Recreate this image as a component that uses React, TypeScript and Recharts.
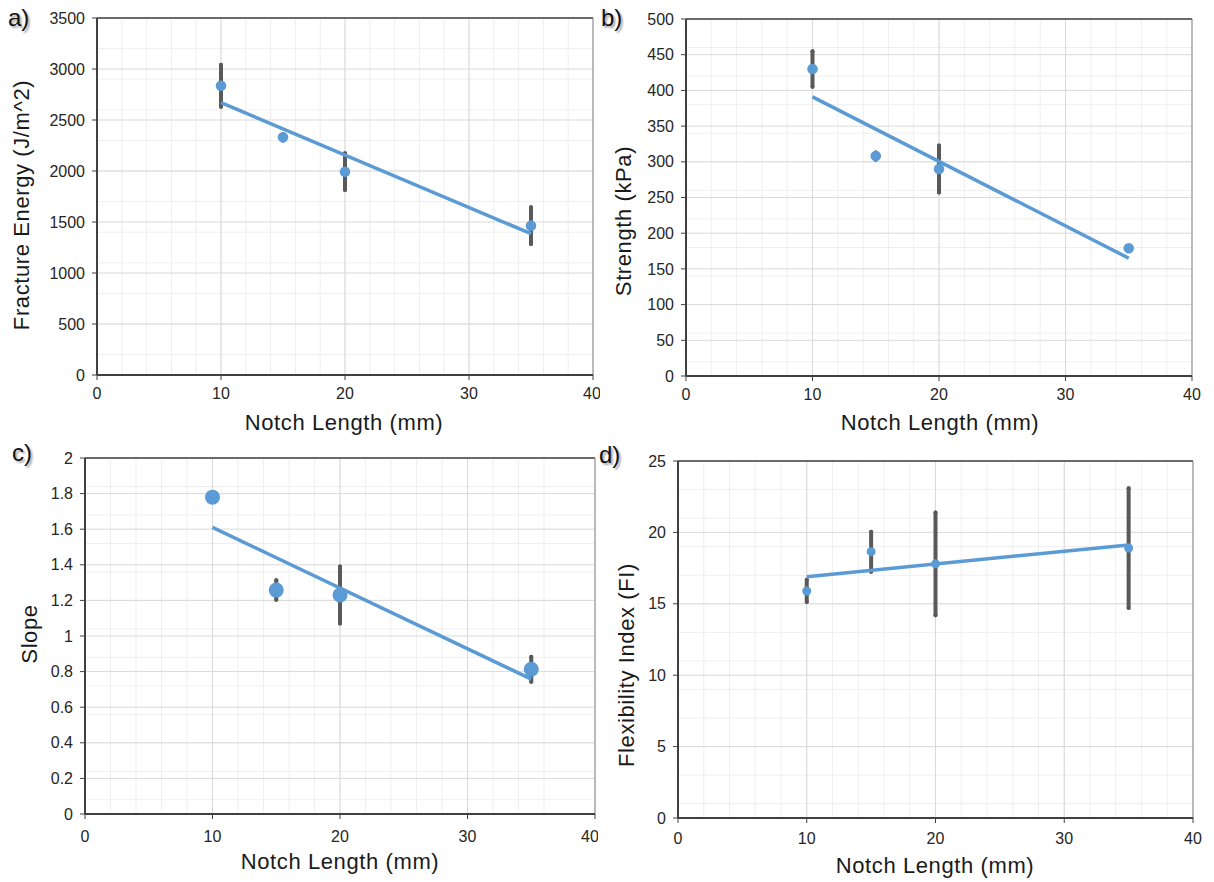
import React from "react";
import {
  ScatterChart,
  Scatter,
  XAxis,
  YAxis,
  CartesianGrid,
  ErrorBar,
  ReferenceLine,
} from "recharts";

const BLUE = "#5b9bd5";
const BAR = "#595959";
const AXIS = "#404040";
const FONT = "'Liberation Sans', Arial, sans-serif";

// notch lengths tested (mm)
const notchLengths = [10, 15, 20, 35];
const trendX = [10, 35];
const xTicks = [0, 10, 20, 30, 40];

// a) fracture energy
const energyMeans = [2836, 2330, 1993, 1464];
const energyErr = [205, 30, 180, 180];
const energyTrend = [2670, 1385];
const energyTicks = [0, 500, 1000, 1500, 2000, 2500, 3000, 3500];

// b) strength
const strengthMeans = [430, 308, 290, 179];
const strengthErr = [25, 5, 33, 3];
const strengthTrend = [391, 165];
const strengthTicks = [0, 50, 100, 150, 200, 250, 300, 350, 400, 450, 500];

// c) slope
const slopeMeans = [1.78, 1.258, 1.23, 0.813];
const slopeErr = [0.02, 0.055, 0.16, 0.07];
const slopeTrend = [1.61, 0.758];
const slopeTicks = [0, 0.2, 0.4, 0.6, 0.8, 1, 1.2, 1.4, 1.6, 1.8, 2];

// d) flexibility index
const fiMeans = [15.9, 18.65, 17.8, 18.9];
const fiErr = [0.78, 1.4, 3.6, 4.2];
const fiTrend = [16.9, 19.12];
const fiTicks = [0, 5, 10, 15, 20, 25];

// minor gridline positions
const steps = (max: number, step: number) => {
  const out: number[] = [];
  for (let i = 0; i * step <= max + 1e-9; i++) out.push(+(i * step).toFixed(4));
  return out;
};

const Y_AXIS_W = 60;
const X_AXIS_H = 30;

type Box = { left: number; top: number; width: number; height: number };
type Plot = { x0: number; x1: number; y0: number; y1: number };

function Panel(props: {
  means: number[];
  errs: number[];
  trend: number[];
  yTicks: number[];
  minorStep: number;
  radius: number;
  xTickGap: number;
  box: Box;
  plot: Plot;
}) {
  const { means, errs, trend, yTicks, minorStep, radius, xTickGap, box, plot } = props;
  const pts = notchLengths.map((x, i) => ({ x, y: means[i], err: errs[i] }));
  const line = trendX.map((x, i) => ({ x, y: trend[i] }));
  const yMax = yTicks[yTicks.length - 1];
  const margin = {
    left: plot.x0 - box.left - Y_AXIS_W,
    right: box.left + box.width - plot.x1,
    top: plot.y0 - box.top,
    bottom: box.top + box.height - plot.y1 - X_AXIS_H,
  };
  const tickStyle = { fill: "#262626", fontSize: 16, fontFamily: FONT };

  return (
    <div
      style={{
        position: "absolute",
        left: box.left,
        top: box.top,
        width: box.width,
        height: box.height,
        overflow: "hidden",
      }}
    >
      <ScatterChart width={box.width} height={box.height} margin={margin}>
        <CartesianGrid
          horizontalValues={steps(yMax, minorStep)}
          verticalValues={steps(40, 2)}
          stroke="#efefef"
        />
        <CartesianGrid horizontalValues={yTicks} verticalValues={xTicks} stroke="#d9d9d9" />
        <XAxis
          type="number"
          dataKey="x"
          domain={[0, 40]}
          ticks={xTicks}
          height={X_AXIS_H}
          tickSize={5}
          tickMargin={xTickGap}
          axisLine={{ stroke: AXIS, strokeWidth: 2 }}
          tickLine={{ stroke: AXIS }}
          tick={tickStyle}
        />
        <YAxis
          type="number"
          dataKey="y"
          domain={[0, yMax]}
          ticks={yTicks}
          width={Y_AXIS_W}
          tickSize={5}
          tickMargin={7}
          axisLine={{ stroke: AXIS, strokeWidth: 2 }}
          tickLine={{ stroke: AXIS }}
          tick={tickStyle}
        />
        <ReferenceLine y={yMax} stroke={AXIS} strokeWidth={1.5} />
        <ReferenceLine x={40} stroke="#8c8c8c" strokeWidth={1} />
        <Scatter data={pts} shape={() => <g />} isAnimationActive={false}>
          <ErrorBar
            dataKey="err"
            direction="y"
            width={0}
            strokeWidth={4}
            stroke={BAR}
            strokeLinecap="round"
            isAnimationActive={false}
          />
        </Scatter>
        <Scatter
          data={line}
          line={{ stroke: BLUE, strokeWidth: 3.5 }}
          shape={() => <g />}
          isAnimationActive={false}
        />
        <Scatter
          data={pts}
          shape={(p: any) => <circle cx={p.cx} cy={p.cy} r={radius} fill={BLUE} />}
          isAnimationActive={false}
        />
      </ScatterChart>
    </div>
  );
}

const titleStyle: React.CSSProperties = {
  position: "absolute",
  fontSize: 22,
  letterSpacing: 0.6,
  color: "#1a1a1a",
  whiteSpace: "nowrap",
  transform: "translate(-50%, -50%)",
};

function XTitle({ x, y, text }: { x: number; y: number; text: string }) {
  return <div style={{ ...titleStyle, left: x, top: y }}>{text}</div>;
}

function YTitle({ x, y, text }: { x: number; y: number; text: string }) {
  return (
    <div style={{ ...titleStyle, left: x, top: y, transform: "translate(-50%, -50%) rotate(-90deg)" }}>
      {text}
    </div>
  );
}

function Tag({ x, y, text }: { x: number; y: number; text: string }) {
  return (
    <div
      style={{
        position: "absolute",
        left: x,
        top: y,
        transform: "translateY(-50%)",
        fontSize: 24,
        color: "#111",
        textShadow: "2px 2px 2px rgba(0,0,0,0.35)",
      }}
    >
      {text}
    </div>
  );
}

export default function App() {
  return (
    <div
      style={{
        position: "absolute",
        left: 0,
        top: 0,
        width: 1214,
        height: 882,
        overflow: "hidden",
        background: "#fff",
        fontFamily: FONT,
      }}
    >
      <Panel
        means={energyMeans}
        errs={energyErr}
        trend={energyTrend}
        yTicks={energyTicks}
        minorStep={100}
        radius={5.3}
        xTickGap={8}
        box={{ left: 0, top: 0, width: 600, height: 440 }}
        plot={{ x0: 97, x1: 593, y0: 18, y1: 375 }}
      />
      <Panel
        means={strengthMeans}
        errs={strengthErr}
        trend={strengthTrend}
        yTicks={strengthTicks}
        minorStep={10}
        radius={5.3}
        xTickGap={8}
        box={{ left: 600, top: 0, width: 614, height: 440 }}
        plot={{ x0: 686, x1: 1192, y0: 19, y1: 376 }}
      />
      <Panel
        means={slopeMeans}
        errs={slopeErr}
        trend={slopeTrend}
        yTicks={slopeTicks}
        minorStep={0.04}
        radius={7.5}
        xTickGap={12}
        box={{ left: 0, top: 440, width: 598, height: 442 }}
        plot={{ x0: 85, x1: 595, y0: 458, y1: 814 }}
      />
      <Panel
        means={fiMeans}
        errs={fiErr}
        trend={fiTrend}
        yTicks={fiTicks}
        minorStep={1}
        radius={4.5}
        xTickGap={10}
        box={{ left: 600, top: 440, width: 614, height: 442 }}
        plot={{ x0: 678, x1: 1193, y0: 461, y1: 818 }}
      />

      <YTitle x={22} y={205} text="Fracture Energy (J/m^2)" />
      <XTitle x={344} y={423} text="Notch Length (mm)" />
      <YTitle x={624} y={221} text="Strength (kPa)" />
      <XTitle x={940} y={423} text="Notch Length (mm)" />
      <YTitle x={30} y={634} text="Slope" />
      <XTitle x={340} y={862} text="Notch Length (mm)" />
      <YTitle x={627} y={665} text="Flexibility Index (FI)" />
      <XTitle x={935} y={866} text="Notch Length (mm)" />

      <Tag x={8} y={18} text="a)" />
      <Tag x={601} y={18} text="b)" />
      <Tag x={12} y={453} text="c)" />
      <Tag x={599} y={455} text="d)" />
    </div>
  );
}
